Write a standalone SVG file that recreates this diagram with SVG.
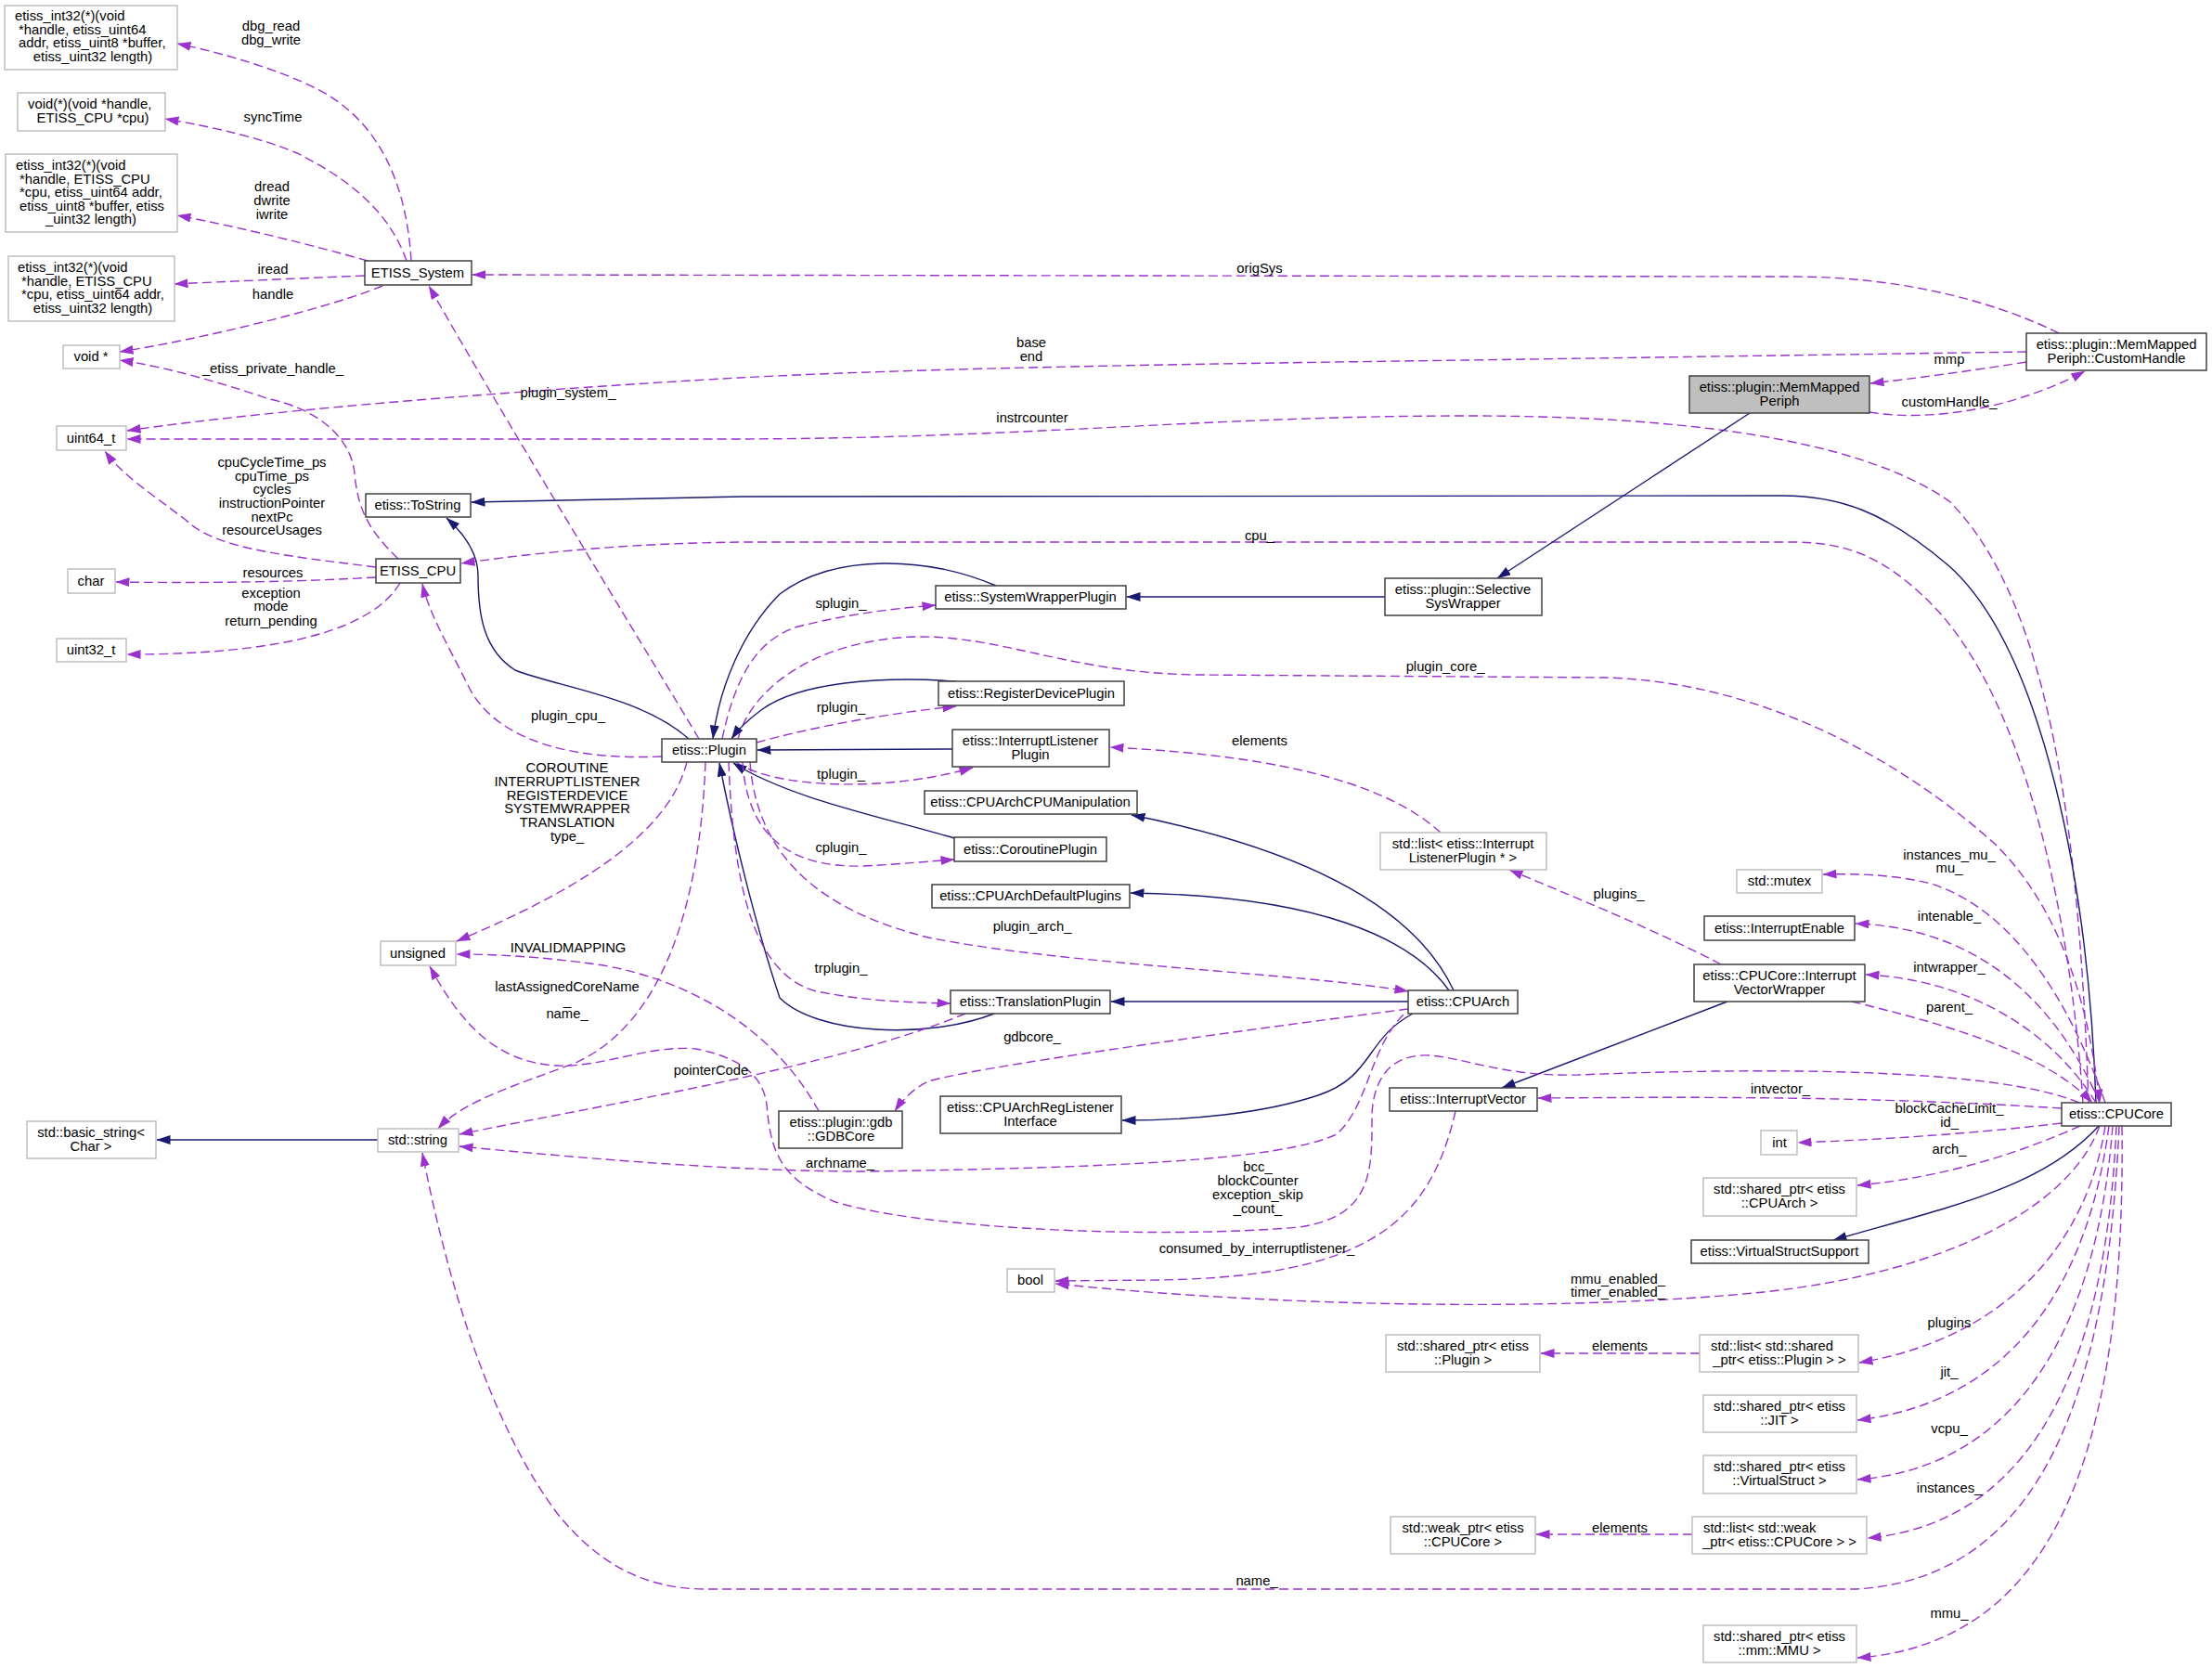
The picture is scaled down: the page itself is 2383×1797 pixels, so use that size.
<svg xmlns="http://www.w3.org/2000/svg" width="2383" height="1797" viewBox="0 0 2383 1797">
<defs>
<style>
text{font-family:"Liberation Sans",Arial,sans-serif;font-size:14.8px;fill:#000;text-anchor:middle}
text.s{text-anchor:start}
rect.g{fill:#fff;stroke:#bfbfbf;stroke-width:1.5}
rect.k{fill:#fff;stroke:#404040;stroke-width:1.5}
rect.f{fill:#bfbfbf;stroke:#404040;stroke-width:1.5}
path.u{fill:none;stroke:#9a32cd;stroke-width:1.4;stroke-dasharray:10,5;marker-end:url(#ap)}
path.h{fill:none;stroke:#191970;stroke-width:1.4;marker-end:url(#ab)}
</style>
<marker id="ap" viewBox="0 0 15 10" refX="14.5" refY="5" markerWidth="15" markerHeight="10" markerUnits="userSpaceOnUse" orient="auto"><path d="M0,0 L15,5 L0,10 z" fill="#9a32cd"/></marker>
<marker id="ab" viewBox="0 0 15 10" refX="14.5" refY="5" markerWidth="15" markerHeight="10" markerUnits="userSpaceOnUse" orient="auto"><path d="M0,0 L15,5 L0,10 z" fill="#191970"/></marker>
</defs>
<rect width="2383" height="1797" fill="#fff"/>

<g id="edges">
<path class="u" d="M443,281 C438,200 410,130 340,95 C300,75 240,57 191,47"/>
<path class="u" d="M438,281 C420,230 380,195 320,165 C280,148 230,137 178,128"/>
<path class="u" d="M396,281 C340,265 260,245 191,232"/>
<path class="u" d="M393,297 C320,300 250,303 188,306"/>
<path class="u" d="M412,308 C360,330 220,365 129,379"/>
<path class="u" d="M429,602 C395,570 385,545 382,510 C378,470 340,440 290,430 C250,416 180,395 129,388"/>
<path class="u" d="M753,796 C720,740 560,480 462,308"/>
<path class="u" d="M2218,359 C2160,330 2060,298 1930,298 L509,296"/>
<path class="u" d="M2183,379 L1580,388 C1300,392 1000,396 796,407 C600,418 300,440 137,464"/>
<path class="u" d="M2250,1188 C2240,900 2210,650 2100,540 C2000,470 1800,448 1580,448 C1300,448 1100,473 780,473 L137,473"/>
<path class="h" d="M2258,1188 C2250,950 2200,700 2100,610 C2030,550 1980,534 1920,534 L800,535 L508,541"/>
<path class="u" d="M2244,1188 C2230,980 2180,750 2080,650 C2030,600 1990,584 1930,584 L800,584 C700,585 600,592 497,607"/>
<path class="u" d="M795,796 C810,740 880,690 984,686 C1080,684 1150,725 1290,727 L1730,730 C1900,735 2050,820 2150,910 C2220,980 2250,1080 2262,1188"/>
<path class="u" d="M1995,1079 C2080,1100 2200,1130 2254,1188"/>
<path class="u" d="M2268,1188 C2230,1080 2170,980 2080,952 C2040,942 2000,941 1964,942"/>
<path class="u" d="M2262,1188 C2220,1090 2140,1000 1999,995"/>
<path class="u" d="M2258,1188 C2210,1110 2120,1055 2010,1050"/>
<path class="u" d="M1854,1039 C1780,1000 1680,960 1626,937"/>
<path class="u" d="M1552,897 C1500,850 1400,815 1196,805"/>
<path class="u" d="M2221,1194 C2000,1180 1800,1182 1657,1183"/>
<path class="h" d="M1861,1079 L1618,1172"/>
<path class="u" d="M1568,1197 C1540,1320 1470,1375 1250,1379 L1137,1380"/>
<path class="u" d="M2262,1213 C2230,1300 2100,1370 1900,1392 C1700,1412 1400,1410 1137,1383"/>
<path class="u" d="M2221,1210 C2120,1222 2020,1228 1937,1231"/>
<path class="u" d="M2241,1213 C2180,1240 2100,1268 2001,1277"/>
<path class="h" d="M2261,1213 C2200,1280 2100,1300 1975,1336"/>
<path class="u" d="M2268,1213 C2250,1330 2170,1440 2003,1468"/>
<path class="u" d="M2272,1213 C2250,1380 2170,1510 2001,1530"/>
<path class="u" d="M2276,1213 C2260,1420 2180,1580 2001,1594"/>
<path class="u" d="M2280,1213 C2270,1450 2200,1640 2012,1657"/>
<path class="u" d="M2286,1213 C2290,1550 2220,1770 2001,1786"/>
<path class="u" d="M2283,1213 C2270,1500 2200,1700 2000,1712 L760,1712 C690,1712 640,1680 600,1630 C540,1550 490,1420 455,1242"/>
<path class="u" d="M1831,1458 L1660,1458"/>
<path class="u" d="M1823,1653 L1655,1653"/>
<path class="h" d="M1885,445 L1613,623"/>
<path class="h" d="M1492,643 L1214,643"/>
<path class="u" d="M2183,390 C2120,400 2060,408 2015,413"/>
<path class="u" d="M2014,444 C2080,455 2170,440 2246,400"/>
<path class="h" d="M1073,631 C1000,600 900,595 840,640 C800,680 775,740 768,796"/>
<path class="u" d="M778,796 C790,740 810,690 860,675 C920,660 970,655 1008,652"/>
<path class="h" d="M1030,734 C950,728 860,735 820,765 C805,776 795,786 788,796"/>
<path class="u" d="M815,800 C880,782 960,768 1030,761"/>
<path class="h" d="M1026,807 L816,808"/>
<path class="u" d="M793,821 C830,848 950,855 1048,827"/>
<path class="h" d="M1566,1067 C1530,990 1430,920 1219,878"/>
<path class="h" d="M1028,903 C950,880 850,860 790,822"/>
<path class="u" d="M800,821 C805,900 850,935 930,933 C970,931 1000,928 1028,926"/>
<path class="h" d="M1561,1067 C1520,1010 1420,965 1218,962"/>
<path class="u" d="M808,821 C815,920 880,980 1000,1010 C1150,1040 1400,1048 1517,1068"/>
<path class="h" d="M1071,1092 C1000,1120 880,1115 840,1075 C815,1000 790,900 775,822"/>
<path class="u" d="M785,821 C790,950 810,1050 880,1068 C940,1080 990,1080 1024,1081"/>
<path class="h" d="M1517,1079 L1197,1079"/>
<path class="h" d="M1522,1092 C1470,1120 1480,1160 1420,1180 C1360,1200 1280,1207 1209,1207"/>
<path class="u" d="M1517,1087 C1300,1115 1050,1150 1000,1165 C985,1172 972,1185 964,1197"/>
<path class="u" d="M1040,1092 C900,1150 650,1190 495,1222"/>
<path class="u" d="M882,1197 C840,1120 760,1060 650,1040 C580,1030 530,1028 492,1028"/>
<path class="u" d="M740,821 C720,900 620,960 492,1014"/>
<path class="u" d="M760,821 C755,960 720,1100 620,1145 C560,1168 500,1185 472,1216"/>
<path class="u" d="M1512,1093 C1475,1130 1475,1190 1440,1222 C1380,1250 1200,1258 933,1262 C800,1262 650,1250 495,1235"/>
<path class="u" d="M2240,1188 C2150,1150 1900,1150 1700,1158 C1620,1160 1580,1140 1540,1137 C1500,1135 1480,1160 1478,1200 C1478,1260 1480,1310 1400,1322 C1250,1335 1000,1325 900,1295 C840,1270 830,1240 826,1190 C822,1160 800,1140 750,1130 C700,1125 650,1150 600,1148 C540,1145 500,1110 463,1041"/>
<path class="u" d="M405,611 C300,598 230,590 200,560 C160,530 130,510 113,486"/>
<path class="u" d="M405,622 C300,628 200,628 125,627"/>
<path class="u" d="M431,628 C400,680 300,705 137,705"/>
<path class="u" d="M713,815 C600,820 530,790 505,740 C480,690 462,660 455,629"/>
<path class="h" d="M742,796 C690,750 600,740 555,722 C520,700 515,660 515,620 C515,595 500,575 481,558"/>
<path class="h" d="M407,1228 L169,1228"/>
</g>

<g id="edge-labels">
<text x="292" y="33">dbg_read</text><text x="292" y="48">dbg_write</text>
<text x="294" y="131">syncTime</text>
<text x="293" y="206">dread</text><text x="293" y="221">dwrite</text><text x="293" y="236">iwrite</text>
<text x="294" y="295">iread</text>
<text x="294" y="322">handle</text>
<text x="294" y="402">_etiss_private_handle_</text>
<text x="612" y="428">plugin_system_</text>
<text x="1357" y="294">origSys</text>
<text x="1111" y="374">base</text><text x="1111" y="389">end</text>
<text x="2100" y="392">mmp</text>
<text x="2100" y="438">customHandle_</text>
<text x="1112" y="455">instrcounter</text>
<text x="293" y="503">cpuCycleTime_ps</text><text x="293" y="518">cpuTime_ps</text><text x="293" y="532">cycles</text><text x="293" y="547">instructionPointer</text><text x="293" y="562">nextPc</text><text x="293" y="576">resourceUsages</text>
<text x="294" y="622">resources</text>
<text x="292" y="644">exception</text><text x="292" y="658">mode</text><text x="292" y="674">return_pending</text>
<text x="1357" y="582">cpu_</text>
<text x="906" y="655">splugin_</text>
<text x="1557" y="723">plugin_core_</text>
<text x="906" y="767">rplugin_</text>
<text x="612" y="776">plugin_cpu_</text>
<text x="1357" y="803">elements</text>
<text x="906" y="839">tplugin_</text>
<text x="611" y="832">COROUTINE</text><text x="611" y="847">INTERRUPTLISTENER</text><text x="611" y="862">REGISTERDEVICE</text><text x="611" y="876">SYSTEMWRAPPER</text><text x="611" y="891">TRANSLATION</text><text x="611" y="906">type_</text>
<text x="906" y="918">cplugin_</text>
<text x="2100" y="926">instances_mu_</text><text x="2100" y="940">mu_</text>
<text x="1744" y="968">plugins_</text>
<text x="2100" y="992">intenable_</text>
<text x="1112" y="1003">plugin_arch_</text>
<text x="612" y="1026">INVALIDMAPPING</text>
<text x="2100" y="1047">intwrapper_</text>
<text x="906" y="1048">trplugin_</text>
<text x="611" y="1068">lastAssignedCoreName</text><text x="611" y="1083">_</text><text x="611" y="1097">name_</text>
<text x="2100" y="1090">parent_</text>
<text x="1112" y="1122">gdbcore_</text>
<text x="766" y="1158">pointerCode</text>
<text x="1918" y="1178">intvector_</text>
<text x="2100" y="1199">blockCacheLimit_</text><text x="2100" y="1214">id_</text>
<text x="2100" y="1243">arch_</text>
<text x="905" y="1258">archname_</text>
<text x="1355" y="1262">bcc_</text><text x="1355" y="1277">blockCounter</text><text x="1355" y="1292">exception_skip</text><text x="1355" y="1307">_count_</text>
<text x="1354" y="1350">consumed_by_interruptlistener_</text>
<text x="1743" y="1383">mmu_enabled_</text><text x="1743" y="1397">timer_enabled_</text>
<text x="2100" y="1430">plugins</text>
<text x="1745" y="1455">elements</text>
<text x="2100" y="1483">jit_</text>
<text x="2100" y="1544">vcpu_</text>
<text x="2100" y="1608">instances_</text>
<text x="1745" y="1651">elements</text>
<text x="1354" y="1708">name_</text>
<text x="2100" y="1743">mmu_</text>
</g>

<g id="n-fn1"><rect class="g" x="5" y="6" width="186" height="69"/><text class="s" x="16" y="22">etiss_int32(*)(void</text><text class="s" x="20" y="37">*handle, etiss_uint64</text><text class="s" x="20" y="51">addr, etiss_uint8 *buffer,</text><text x="100" y="66">etiss_uint32 length)</text></g>
<g id="n-fn2"><rect class="g" x="19" y="100" width="159" height="41"/><text class="s" x="30" y="117">void(*)(void *handle,</text><text x="100" y="132">ETISS_CPU *cpu)</text></g>
<g id="n-fn3"><rect class="g" x="6" y="166" width="185" height="84"/><text class="s" x="17" y="183">etiss_int32(*)(void</text><text class="s" x="21" y="198">*handle, ETISS_CPU</text><text class="s" x="21" y="212">*cpu, etiss_uint64 addr,</text><text class="s" x="21" y="227">etiss_uint8 *buffer, etiss</text><text x="98" y="241">_uint32 length)</text></g>
<g id="n-fn4"><rect class="g" x="9" y="276" width="179" height="70"/><text class="s" x="19" y="293">etiss_int32(*)(void</text><text class="s" x="23" y="308">*handle, ETISS_CPU</text><text class="s" x="23" y="322">*cpu, etiss_uint64 addr,</text><text x="100" y="337">etiss_uint32 length)</text></g>
<g id="n-voidptr"><rect class="g" x="68" y="372" width="61" height="25"/><text x="98" y="389">void *</text></g>
<g id="n-uint64"><rect class="g" x="61" y="459" width="75" height="26"/><text x="98" y="477">uint64_t</text></g>
<g id="n-char"><rect class="g" x="73" y="613" width="51" height="26"/><text x="98" y="631">char</text></g>
<g id="n-uint32"><rect class="g" x="61" y="688" width="75" height="25"/><text x="98" y="705">uint32_t</text></g>
<g id="n-etisssystem"><rect class="k" x="393" y="281" width="115" height="26"/><text x="450" y="299">ETISS_System</text></g>
<g id="n-tostring"><rect class="k" x="394" y="532" width="113" height="25"/><text x="450" y="549">etiss::ToString</text></g>
<g id="n-etisscpu"><rect class="k" x="405" y="602" width="91" height="26"/><text x="450" y="620">ETISS_CPU</text></g>
<g id="n-plugin"><rect class="k" x="713" y="796" width="102" height="25"/><text x="764" y="813">etiss::Plugin</text></g>
<g id="n-unsigned"><rect class="g" x="410" y="1014" width="81" height="26"/><text x="450" y="1032">unsigned</text></g>
<g id="n-basicstring"><rect class="g" x="29" y="1208" width="139" height="40"/><text x="98" y="1225">std::basic_string&lt;</text><text x="98" y="1240">Char &gt;</text></g>
<g id="n-string"><rect class="g" x="407" y="1216" width="87" height="25"/><text x="450" y="1233">std::string</text></g>
<g id="n-syswrapperplugin"><rect class="k" x="1008" y="631" width="205" height="25"/><text x="1110" y="648">etiss::SystemWrapperPlugin</text></g>
<g id="n-regdeviceplugin"><rect class="k" x="1011" y="734" width="200" height="26"/><text x="1111" y="752">etiss::RegisterDevicePlugin</text></g>
<g id="n-intlistenerplugin"><rect class="k" x="1026" y="786" width="169" height="40"/><text x="1110" y="803">etiss::InterruptListener</text><text x="1110" y="818">Plugin</text></g>
<g id="n-cpumanip"><rect class="k" x="996" y="852" width="229" height="25"/><text x="1110" y="869">etiss::CPUArchCPUManipulation</text></g>
<g id="n-coroutineplugin"><rect class="k" x="1028" y="902" width="164" height="26"/><text x="1110" y="920">etiss::CoroutinePlugin</text></g>
<g id="n-defaultplugins"><rect class="k" x="1004" y="953" width="213" height="25"/><text x="1110" y="970">etiss::CPUArchDefaultPlugins</text></g>
<g id="n-translationplugin"><rect class="k" x="1024" y="1067" width="172" height="25"/><text x="1110" y="1084">etiss::TranslationPlugin</text></g>
<g id="n-reglistener"><rect class="k" x="1013" y="1181" width="195" height="40"/><text x="1110" y="1198">etiss::CPUArchRegListener</text><text x="1110" y="1213">Interface</text></g>
<g id="n-gdbcore"><rect class="k" x="839" y="1197" width="133" height="40"/><text x="906" y="1214">etiss::plugin::gdb</text><text x="906" y="1229">::GDBCore</text></g>
<g id="n-bool"><rect class="g" x="1085" y="1367" width="51" height="25"/><text x="1110" y="1384">bool</text></g>
<g id="n-cpuarch"><rect class="k" x="1517" y="1067" width="118" height="25"/><text x="1576" y="1084">etiss::CPUArch</text></g>
<g id="n-listilp"><rect class="g" x="1487" y="897" width="179" height="40"/><text x="1576" y="914">std::list&lt; etiss::Interrupt</text><text x="1576" y="929">ListenerPlugin * &gt;</text></g>
<g id="n-intvector"><rect class="k" x="1497" y="1172" width="159" height="25"/><text x="1576" y="1189">etiss::InterruptVector</text></g>
<g id="n-selective"><rect class="k" x="1492" y="623" width="169" height="40"/><text x="1576" y="640">etiss::plugin::Selective</text><text x="1576" y="655">SysWrapper</text></g>
<g id="n-memmappedperiph"><rect class="f" x="1820" y="405" width="194" height="40"/><text x="1917" y="422">etiss::plugin::MemMapped</text><text x="1917" y="437">Periph</text></g>
<g id="n-customhandle"><rect class="k" x="2183" y="359" width="194" height="40"/><text x="2280" y="376">etiss::plugin::MemMapped</text><text x="2280" y="391">Periph::CustomHandle</text></g>
<g id="n-mutex"><rect class="g" x="1871" y="937" width="92" height="25"/><text x="1917" y="954">std::mutex</text></g>
<g id="n-intenable"><rect class="k" x="1836" y="987" width="162" height="26"/><text x="1917" y="1005">etiss::InterruptEnable</text></g>
<g id="n-ivwrapper"><rect class="k" x="1825" y="1039" width="184" height="40"/><text x="1917" y="1056">etiss::CPUCore::Interrupt</text><text x="1917" y="1071">VectorWrapper</text></g>
<g id="n-cpucore"><rect class="k" x="2221" y="1188" width="118" height="25"/><text x="2280" y="1205">etiss::CPUCore</text></g>
<g id="n-int"><rect class="g" x="1897" y="1218" width="39" height="26"/><text x="1917" y="1236">int</text></g>
<g id="n-spcpuarch"><rect class="g" x="1835" y="1269" width="165" height="41"/><text x="1917" y="1286">std::shared_ptr&lt; etiss</text><text x="1917" y="1301">::CPUArch &gt;</text></g>
<g id="n-vss"><rect class="k" x="1822" y="1336" width="191" height="25"/><text x="1917" y="1353">etiss::VirtualStructSupport</text></g>
<g id="n-spplugin"><rect class="g" x="1493" y="1438" width="166" height="40"/><text x="1576" y="1455">std::shared_ptr&lt; etiss</text><text x="1576" y="1470">::Plugin &gt;</text></g>
<g id="n-listsp"><rect class="g" x="1831" y="1438" width="171" height="40"/><text class="s" x="1843" y="1455">std::list&lt; std::shared</text><text x="1917" y="1470">_ptr&lt; etiss::Plugin &gt; &gt;</text></g>
<g id="n-spjit"><rect class="g" x="1835" y="1503" width="165" height="40"/><text x="1917" y="1520">std::shared_ptr&lt; etiss</text><text x="1917" y="1535">::JIT &gt;</text></g>
<g id="n-spvs"><rect class="g" x="1835" y="1568" width="165" height="41"/><text x="1917" y="1585">std::shared_ptr&lt; etiss</text><text x="1917" y="1600">::VirtualStruct &gt;</text></g>
<g id="n-wpcpucore"><rect class="g" x="1498" y="1634" width="156" height="40"/><text x="1576" y="1651">std::weak_ptr&lt; etiss</text><text x="1576" y="1666">::CPUCore &gt;</text></g>
<g id="n-listwp"><rect class="g" x="1823" y="1634" width="188" height="40"/><text class="s" x="1835" y="1651">std::list&lt; std::weak</text><text x="1917" y="1666">_ptr&lt; etiss::CPUCore &gt; &gt;</text></g>
<g id="n-spmmu"><rect class="g" x="1835" y="1751" width="165" height="40"/><text x="1917" y="1768">std::shared_ptr&lt; etiss</text><text x="1917" y="1783">::mm::MMU &gt;</text></g>
</svg>
